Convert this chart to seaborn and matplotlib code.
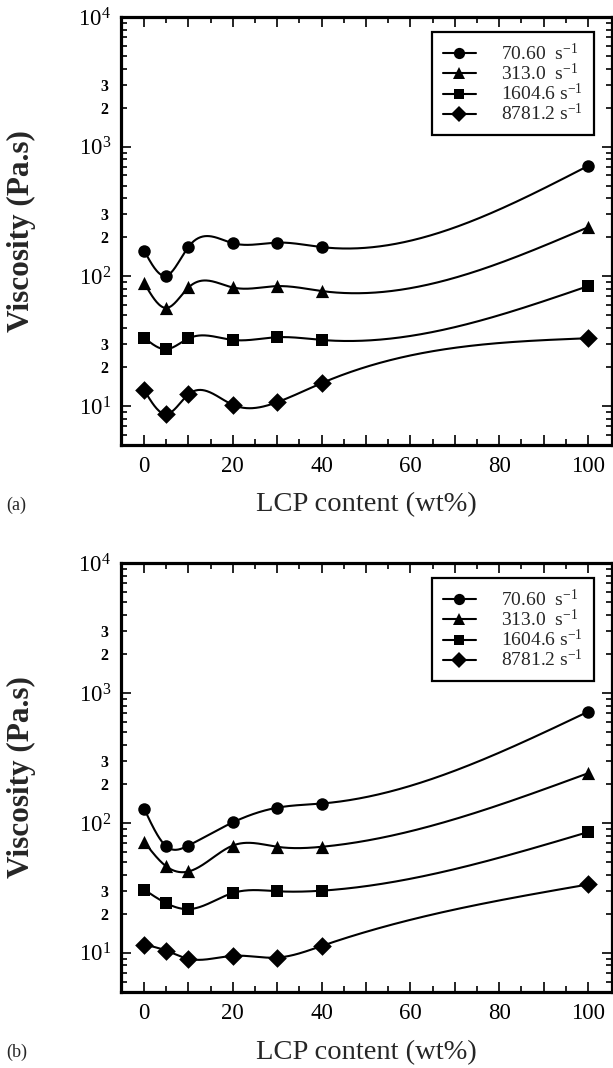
import numpy as np
import pandas as pd
import matplotlib
matplotlib.use("Agg")
import matplotlib.pyplot as plt
import seaborn as sns
from matplotlib.lines import Line2D
from matplotlib.ticker import FixedLocator, LogFormatterSciNotation, FuncFormatter


# =========================
# DATA
# =========================
lcp_content = [0, 5, 10, 20, 30, 40, 100]

rate_labels = ["70.60  s$^{\\mathdefault{-1}}$", "313.0  s$^{\\mathdefault{-1}}$",
               "1604.6 s$^{\\mathdefault{-1}}$", "8781.2 s$^{\\mathdefault{-1}}$"]
rate_markers = ["o", "^", "s", "D"]
marker_sizes = [9, 9.5, 8.5, 9.5]

# panel (a)
visc_a_70 = [158, 101, 169, 180, 182, 168, 710]
visc_a_313 = [89, 57, 82, 82, 84, 77, 239]
visc_a_1604 = [33.7, 27.4, 33.2, 32.3, 33.9, 32.3, 84]
visc_a_8781 = [13.3, 8.65, 12.3, 10.2, 10.7, 15.0, 33.3]

# panel (b)
visc_b_70 = [129, 66, 67, 101, 131, 141, 717]
visc_b_313 = [71.7, 46.3, 42.3, 67, 65.5, 65.5, 241]
visc_b_1604 = [30.7, 24.1, 21.7, 28.9, 29.8, 30.1, 85]
visc_b_8781 = [11.6, 10.4, 9.0, 9.5, 9.2, 11.3, 33.6]

panels = {
    "(a)": [visc_a_70, visc_a_313, visc_a_1604, visc_a_8781],
    "(b)": [visc_b_70, visc_b_313, visc_b_1604, visc_b_8781],
}


def natural_spline(x, y, xs):
    # natural cubic spline, only used to draw the smooth curve through the points
    x = np.asarray(x, float)
    y = np.asarray(y, float)
    n = len(x)
    h = np.diff(x)
    A = np.zeros((n, n))
    r = np.zeros(n)
    A[0, 0] = 1
    A[-1, -1] = 1
    for i in range(1, n - 1):
        A[i, i - 1] = h[i - 1]
        A[i, i] = 2 * (h[i - 1] + h[i])
        A[i, i + 1] = h[i]
        r[i] = 6 * ((y[i + 1] - y[i]) / h[i] - (y[i] - y[i - 1]) / h[i - 1])
    M = np.linalg.solve(A, r)
    idx = np.clip(np.searchsorted(x, xs) - 1, 0, n - 2)
    x0, x1 = x[idx], x[idx + 1]
    hh = x1 - x0
    a = (x1 - xs) / hh
    b = (xs - x0) / hh
    return (a * y[idx] + b * y[idx + 1]
            + ((a ** 3 - a) * M[idx] + (b ** 3 - b) * M[idx + 1]) * hh ** 2 / 6)


sns.set_style("ticks")
plt.rcParams["font.family"] = ["Liberation Serif", "DejaVu Serif"]
plt.rcParams["mathtext.fontset"] = "custom"
plt.rcParams["mathtext.rm"] = "Liberation Serif"
plt.rcParams["mathtext.it"] = "Liberation Serif:italic"
plt.rcParams["mathtext.bf"] = "Liberation Serif:bold"

fig = plt.figure(figsize=(6.13, 10.68), dpi=100)
W, H = 613, 1068
axes_boxes = {
    "(a)": [121 / W, 1 - 445 / H, 491 / W, 428 / H],
    "(b)": [121 / W, 1 - 992 / H, 491 / W, 429 / H],
}

minor_vals = [m * 10.0 ** k for k in range(0, 4) for m in range(2, 10)]


def minor_label(v, pos):
    lead = round(v / 10 ** np.floor(np.log10(v) + 1e-9))
    if lead in (2, 3) and v >= 20:
        return str(int(lead))
    return ""


xs = np.linspace(0, 100, 600)

for name, series in panels.items():
    ax = fig.add_axes(axes_boxes[name])
    for vals, mk, ms in zip(series, rate_markers, marker_sizes):
        # smooth curve drawn in log space, like the original plot
        curve = 10 ** natural_spline(lcp_content, np.log10(vals), xs)
        sns.lineplot(x=xs, y=curve, color="black", linewidth=1.5, ax=ax,
                     legend=False)
        sns.scatterplot(x=lcp_content, y=vals, marker=mk, s=ms ** 2,
                        color="black", edgecolor="black", linewidth=0,
                        ax=ax, legend=False, zorder=3)

    ax.set_yscale("log")
    ax.set_ylim(5, 1e4)
    ax.set_xlim(-5.2, 105.4)

    ax.set_xticks(range(0, 101, 10))
    ax.set_xticklabels([str(v) if v % 20 == 0 else "" for v in range(0, 101, 10)])
    ax.set_xticks(range(5, 101, 10), minor=True)

    ax.yaxis.set_major_locator(FixedLocator([10, 100, 1000, 10000]))
    ax.yaxis.set_major_formatter(LogFormatterSciNotation())
    ax.yaxis.set_minor_locator(FixedLocator(minor_vals))
    ax.yaxis.set_minor_formatter(FuncFormatter(minor_label))

    ax.tick_params(which="both", direction="in", top=True, right=True,
                   width=1.2, colors="black")
    ax.tick_params(which="major", length=7)
    ax.tick_params(which="minor", length=4)
    ax.tick_params(axis="x", which="major", labelsize=16.5, pad=8)
    ax.tick_params(axis="y", which="major", labelsize=16.5, pad=7)
    ax.tick_params(axis="y", which="minor", labelsize=11.5, pad=9)
    for lab in ax.get_yticklabels(minor=True):
        lab.set_fontweight("bold")

    for sp in ax.spines.values():
        sp.set_linewidth(2.3)
        sp.set_color("black")

    ax.set_xlabel("LCP content (wt%)", fontsize=20.5, va="center")
    ax.xaxis.set_label_coords(0.5, -60 / 428)
    ax.set_ylabel("Viscosity (Pa.s)", fontsize=22.5, fontweight="bold", va="center")
    ax.yaxis.set_label_coords(-100 / 491, 0.5)

    # legend: line with marker for each shear rate
    handles = [Line2D([0], [0], color="black", linewidth=1.5, marker=mk,
                      markersize=ms * 0.9, markeredgewidth=0)
               for mk, ms in zip(rate_markers, marker_sizes)]
    leg = ax.legend(handles, rate_labels, loc="upper right",
                    bbox_to_anchor=(0.963, 0.965), borderaxespad=0,
                    frameon=True, fancybox=False, edgecolor="black",
                    fontsize=14, handlelength=1.7, handletextpad=1.3,
                    labelspacing=-0.05, borderpad=0.55, framealpha=1)
    leg.get_frame().set_linewidth(1.6)

    # panel tag, lower left, level with the x label
    box = axes_boxes[name]
    fig.text(6 / W, box[1] - 60 / H, name, fontsize=13, va="center")

fig.savefig("out.png", dpi=100)
